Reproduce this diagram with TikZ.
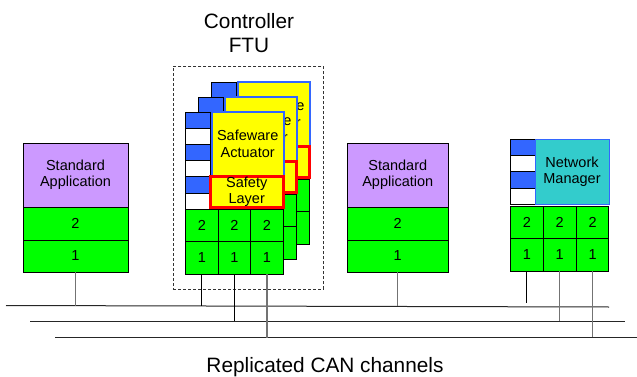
\documentclass[tikz,border=0pt]{standalone}
\usepackage{fontspec}
\setmainfont{Liberation Sans}

\definecolor{appviolet}{HTML}{CC99FF}
\definecolor{layergreen}{HTML}{00FF00}
\definecolor{swyellow}{HTML}{FFFF00}
\definecolor{portblue}{HTML}{3366FF}
\definecolor{nmcyan}{HTML}{33CCCC}
\definecolor{safered}{HTML}{FF0000}

\newcommand\lbl{\fontsize{14.5}{16.3}\selectfont}
\newcommand\bigtxt{\fontsize{20.8}{23.5}\selectfont}

\tikzset{
  box/.style={draw=black, line width=0.8pt, inner sep=0pt, outer sep=0pt,
    anchor=north west, align=center, font=\lbl},
  layer/.style={box, fill=layergreen},
  gridcell/.style={layer, minimum width=32.5pt, minimum height=32.5pt},
  port/.style={box, minimum width=24.5pt, minimum height=16.2pt},
  appbox/.style={box, fill=appviolet},
  swbox/.style={box, draw=portblue, line width=2pt, fill=swyellow,
    minimum width=72pt, minimum height=64pt},
  safebox/.style={box, draw=safered, line width=3pt, fill=swyellow,
    minimum width=72.5pt, minimum height=31pt},
  nmbox/.style={box, draw=portblue, line width=0.8pt, fill=nmcyan,
    minimum width=74pt, minimum height=65pt},
  bus/.style={draw=black!85, line width=1pt},
  drop/.style={draw=black, line width=1pt},
  gdrop/.style={draw=black!55, line width=1.2pt},
  ftuframe/.style={draw=black!80, line width=0.7pt, dash pattern=on 3pt off 2pt},
  caption/.style={font=\bigtxt, align=center, inner sep=0pt}
}

% one replica of the FTU node: ports, application, safety layer, CAN layers
\newcommand\ftustack[1]{%
  \foreach \c in {0,1,2}{%
    \node[gridcell] (#1u\c) at ({185.7+32.5*\c},209) {2};
    \node[gridcell] (#1l\c) at ({185.7+32.5*\c},241.5) {1};
  }
  \foreach \i/\f in {0/portblue,1/white,2/portblue,3/white,4/portblue,5/white}{%
    \node[port, fill=\f] (#1p\i) at (185.7,{112+16.2*\i}) {};
  }
  \node[swbox] (#1sw) at (211.7,111.7) {Safeware\\Actuator};
  \node[safebox] (#1sl) at (210.5,176.5) {Safety\\Layer};
}

\begin{document}
\begin{tikzpicture}[x=1pt,y=-1pt]
  \useasboundingbox (0,0) rectangle (637,377);

  % captions
  \node[caption] (ctl) at (249,33) {Controller\\FTU};
  \node[caption, anchor=base] (can) at (325,372) {Replicated CAN channels};

  % frame around the replicated controller
  \node[ftuframe, anchor=north west, minimum width=150pt, minimum height=223pt,
        inner sep=0pt] (ftu) at (173,66) {};

  % CAN buses
  \coordinate (b1w) at (6,305.5);   \coordinate (b1e) at (609,307);
  \coordinate (b2w) at (30,321);    \coordinate (b2e) at (625,321);
  \coordinate (b3w) at (55,337);    \coordinate (b3e) at (637,337);
  \draw[bus] (b1w) -- (b1e);
  \draw[bus] (b2w) -- (b2e);
  \draw[bus] (b3w) -- (b3e);

  % standard application, left
  \node[appbox, minimum width=105pt, minimum height=64pt] (sa1) at (23,143) {Standard\\Application};
  \node[layer, minimum width=105pt, minimum height=33pt] (sa1u) at (23,207) {2};
  \node[layer, minimum width=105pt, minimum height=32pt] (sa1l) at (23,240) {1};

  % standard application, right
  \node[appbox, minimum width=101.5pt, minimum height=64pt] (sa2) at (347,143) {Standard\\Application};
  \node[layer, minimum width=101.5pt, minimum height=33pt] (sa2u) at (347,207) {2};
  \node[layer, minimum width=101.5pt, minimum height=32pt] (sa2l) at (347,240) {1};

  % replicated controller, back to front
  \begin{scope}[shift={(26,-30)}]\ftustack{r}\end{scope}
  \begin{scope}[shift={(13,-15)}]\ftustack{m}\end{scope}
  \ftustack{f}

  % network manager
  \foreach \i/\f in {0/portblue,1/white,2/portblue,3/white}{%
    \node[port, fill=\f] (np\i) at (510.7,{139.3+16.25*\i}) {};
  }
  \node[nmbox] (nm) at (535,139.3) {Network\\Manager};
  \foreach \c in {0,1,2}{%
    \node[gridcell] (nu\c) at ({510.7+32.8*\c},206) {2};
    \node[gridcell] (nl\c) at ({510.7+32.8*\c},238.5) {1};
  }

  % bus connections
  \draw[gdrop] (sa1l.south) -- (sa1l.south |- b1w);
  \draw[gdrop] (sa2l.south) -- (sa2l.south |- b1w);
  \draw[drop]  (fl0.south) -- (fl0.south |- b1w);
  \draw[drop]  (fl1.south) -- (fl1.south |- b2w);
  \draw[gdrop] (fl2.south) -- ([yshift=-1pt]fl2.south |- b3w);
  \coordinate (nmend) at (527,303);
  \draw[drop]  (nl0.south) -- (nl0.south |- nmend);
  \draw[gdrop] (nl1.south) -- (nl1.south |- b2w);
  \draw[gdrop] (nl2.south) -- (nl2.south |- b3w);
\end{tikzpicture}
\end{document}
